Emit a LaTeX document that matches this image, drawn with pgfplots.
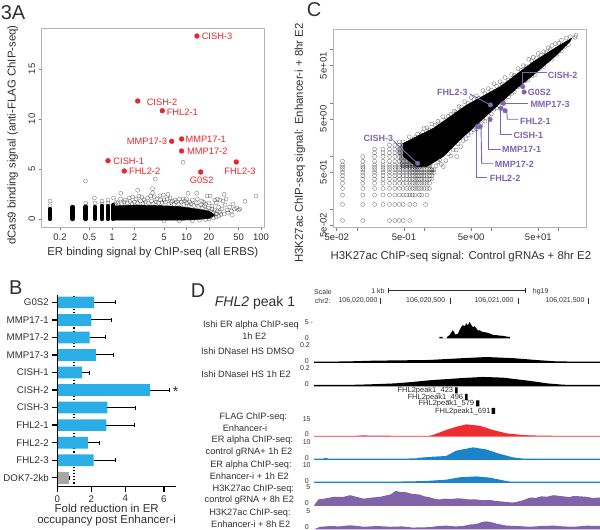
\documentclass[border=0pt]{standalone}
\usepackage{fontspec}
\setmainfont{Liberation Sans}
\usepackage{pgfplots}
\pgfplotsset{compat=1.18}

\definecolor{ptred}{HTML}{E9242B}
\definecolor{lilac}{HTML}{7A67AE}
\definecolor{barblue}{HTML}{2BAEE6}
\definecolor{trkblue}{HTML}{1B84C8}
\definecolor{trkpurple}{HTML}{8262A8}
\definecolor{trkred}{HTML}{EE2D30}
\definecolor{frame}{HTML}{B4B4B4}
\definecolor{txt}{HTML}{303030}

\newcommand{\sz}[1]{\fontsize{#1}{#1}\selectfont}

\pgfplotsset{
  rplot/.style={scale only axis, anchor=south west, axis line style={frame,line width=.8pt},
    tick style={frame!70!black,line width=.5pt}, tick align=outside, major tick length=3pt,
    minor tick num=0, xtick pos=bottom, ytick pos=left, log ticks with fixed point,
    tick label style={font=\sz{9.5},text=txt}, label style={font=\sz{11.4},text=txt},
    yticklabel style={rotate=90,anchor=south}, clip=false},
  circ/.style={only marks, mark=o, mark size=2pt, mark options={draw=black,opacity=.5,line width=.4pt}},
  track/.style={hide axis, scale only axis, anchor=south west, width=286pt,
    xmin=-483, xmax=1572, ymin=0, clip=true},
}

\begin{document}
\begin{tikzpicture}
\path[use as bounding box] (0pt,0pt) rectangle (600pt,530pt);

% A
\begin{axis}[rplot, at={(41.7pt,303pt)}, width=222.3pt, height=198.7pt,
  xmode=log, xmin=0.1138, xmax=109.7, ymin=-0.8, ymax=19.07,
  xtick={0.2,0.5,1,2,5,10,20,50,100}, xticklabels={0.2,0.5,1,2,5,10,20,50,100},
  ytick={0,5,10,15}, yticklabels={0,5,10,15},
  xlabel={ER binding signal by ChIP-seq (all ERBS)},
  ylabel={dCas9 binding signal (anti-FLAG ChIP-seq)},
  xlabel style={at={(axis description cs:.5,-0.131)},anchor=center},
  ylabel style={at={(axis description cs:-0.13,.463)},anchor=center}]
\addplot[black,line width=4.4pt,line cap=round,unbounded coords=jump] coordinates {
 (.147,0)(.147,1.0)(.147,nan)(.296,0)(.296,1.2)(.296,nan)(.443,0)(.443,1.2)(.443,nan)
 (.59,0)(.59,1.2)(.59,nan)(.734,0)(.734,1.3)(.734,nan)(.883,0)(.883,1.3)(.883,nan)(1.04,0)(1.04,1.4)};
\addplot[fill=black,draw=black] coordinates {
 (1.04,-.12)(5,-.12)(12,-.1)(20,.05)(24,.4)(20,.8)(14,1.0)(8,1.25)(4,1.35)(2,1.4)(1.4,1.35)(1.04,1.3)} -- cycle;
\addplot[circ] coordinates {
 (9,5.67)(.44,3.8)(3.8,4.0)(2.21,2.87)(3.5,3.03)(.58,2.1)(1.31,2.57)(85.7,2.3)(61,1.77)(31.9,2.47)
 (20.7,2.3)(13.7,2.57)(10.5,2.57)(5.65,2.47)(4.94,2.4)(4.4,2.33)(3.5,2.63)(.147,1.8)(.147,1.33)
 (22,1.3)(24,.9)(25,1.6)(27,1.2)(28,.7)(30,1.0)(31,1.8)(32,.5)(33,1.4)(34,2.0)(35,.9)(36,.6)
 (38,1.2)(40,.8)(41,.4)(42,1.5)(44,1.0)(47,1.1)(50,.9)(52,1.0)(28,1.9)(26,2.0)(24,1.9)(23,.4)
 (21,.2)(20,0)(20,1.6)(19,2.3)(18,1.5)(17,1.7)(16,1.8)(14,2.0)(12,1.9)(11,1.7)(10,2.0)(9.5,1.8)
 (9,2.0)(8,2.0)(7,1.9)(6.5,1.8)(6,2.1)(5.5,2.0)(5,1.9)(4.5,1.9)(4,2.0)(3.7,2.2)(3.3,2.3)(3,2.1)
 (2.7,1.9)(2.5,2.2)(2.3,2.3)(2.1,2.0)(1.9,2.2)(1.7,2.1)(1.5,1.9)(1.3,2.0)(1.15,1.7)(1.05,2.1)
 (.883,1.9)(.883,1.6)(.734,1.8)(.734,1.5)(.59,1.6)(.443,1.6)(.443,1.3)
 (1.1,1.5)(1.2,1.6)(1.35,1.55)(1.45,1.7)(1.6,1.6)(1.75,1.75)(1.85,1.55)(2,1.7)(2.2,1.6)(2.4,1.8)
 (2.6,1.55)(2.8,1.7)(3.1,1.6)(3.4,1.8)(3.6,1.55)(3.9,1.7)(4.2,1.6)(4.7,1.65)(5.2,1.7)(5.8,1.5)
 (6.2,1.65)(6.8,1.45)(7.3,1.7)(7.8,1.5)(8.5,1.7)(9.2,1.45)(10,1.6)(10.8,1.3)(11.5,1.5)(12.5,1.35)
 (13.5,1.6)(14.5,1.25)(15.5,1.4)(16.5,1.1)(17.5,1.3)(18.5,.9)(19.5,1.1)(21,.75)(22,1.0)(23,.65)
 (25,.5)(26,.8)(27,.3)(25,.2)(23,.1)(29,.45)(18,-.05)(15,-.12)(12,-.18)(8,-.2)(5,-.2)};
\addplot[only marks,mark=*,mark size=2.4pt,color=ptred,mark options={solid}] coordinates {
 (13.8,18.3)(2.21,11.8)(4.73,10.83)(6.32,7.77)(8.6,8.0)(8.6,6.8)(.883,5.83)(1.46,4.8)(15.5,4.7)(46.6,5.7)};
\end{axis}

% B
\begin{axis}[scale only axis, anchor=south west, at={(57.3pt,43.3pt)}, width=118.7pt, height=191.7pt,
  xbar, bar width=11.7pt, bar shift=0pt, xmin=0, xmax=6.98, ymin=-.51, ymax=10.42,
  axis x line=bottom, axis y line=left, axis line style={-,black,line width=1.4pt},
  tick style={black,line width=1.3pt}, xtick style={black,line width=1.3pt}, ytick style={black,line width=1.3pt},
  tick align=outside, major tick length=5pt, axis on top,
  xtick={0,2,4,6.27}, xticklabels={0,2,4,6},
  ytick={0,...,10}, yticklabels={DOK7-2kb,FHL2-3,FHL2-2,FHL2-1,CISH-3,CISH-2,CISH-1,MMP17-3,MMP17-2,MMP17-1,G0S2},
  tick label style={font=\sz{9.7},text=txt},
  xlabel={Fold reduction in ER\\occupancy post Enhancer-i},
  xlabel style={at={(axis description cs:.416,-0.148)},anchor=center,align=center,font=\sz{11.5},text=txt},
  error bars/error bar style={black,line width=1pt}]
\addplot[sharp plot,black,dotted,line width=1.1pt] coordinates {(.98,-.51)(.98,10.42)};
\addplot[fill=barblue,draw=none,error bars/.cd,x dir=plus,x explicit] coordinates {
 (2.16,10) +- (1.23,0)
 (2.0,9) +- (1.16,0)
 (1.9,8) +- (.94,0)
 (2.27,7) +- (1.02,0)
 (1.45,6) +- (.43,0)
 (5.45,5) +- (1.12,0)
 (2.94,4) +- (1.65,0)
 (2.88,3) +- (1.63,0)
 (1.8,2) +- (.69,0)
 (2.14,1) +- (1.29,0)};
\addplot[fill=gray!70,draw=none,error bars/.cd,x dir=plus,x explicit] coordinates {(.69,0) +- (.03,0)};
\end{axis}

% C
\begin{axis}[rplot, at={(333.3pt,302.3pt)}, width=252.7pt, height=198.4pt,
  xmode=log, ymode=log, xmin=.0445, xmax=256, ymin=.045, ymax=241.5,
  xtick={.05,.1,.5,1,5,10,50,100}, xticklabels={5e-02,,5e-01,,5e+00,,5e+01,},
  ytick={.05,.1,.5,1,5,10,50,100}, yticklabels={5e-02,,5e-01,,5e+00,,5e+01,},
  xlabel={H3K27ac ChIP-seq signal: Control gRNAs + 8hr E2},
  ylabel={H3K27ac ChIP-seq signal: Enhancer-i + 8hr E2},
  xlabel style={at={(axis description cs:.505,-0.143)},anchor=center},
  ylabel style={at={(axis description cs:-0.132,.427)},anchor=center}]
\addplot[fill=black,draw=none,opacity=.35] coordinates {(.45,.6)(.4,1.3)(.45,1.7)(.7,2)(1.4,1)(1.3,.6)} -- cycle;
\addplot[circ] coordinates {
 (.061,.0615)(.122,.0615)(.305,.0615)(.366,.0615)(.427,.0615)(.488,.0615)(.61,.0615)
 (.061,.123)(.122,.123)(.183,.123)(.244,.123)(.305,.123)(.366,.123)(.427,.123)(.488,.123)(.61,.123)(.73,.123)(1.05,.123)
 (.061,.185)(.122,.185)(.183,.185)(.244,.185)(.305,.185)(.366,.185)(.427,.185)(.488,.185)(.549,.185)(.61,.185)(.67,.185)(.73,.185)(.85,.185)(.92,.185)(1.1,.185)
 (.061,.246)(.122,.246)(.183,.246)(.244,.246)(.305,.246)(.366,.246)(.427,.246)(.488,.246)(.549,.246)(.61,.246)(.67,.246)(.73,.246)(.79,.246)(.85,.246)(.92,.246)(1.0,.246)(1.1,.246)(1.2,.246)
 (.061,.308)(.122,.308)(.183,.308)(.244,.308)(.305,.308)(.366,.308)(.427,.308)(.488,.308)(.549,.308)(.61,.308)(.67,.308)(.73,.308)(.79,.308)(.85,.308)(.92,.308)(1.0,.308)(1.1,.308)(1.2,.308)
 (.061,.369)(.122,.369)(.183,.369)(.244,.369)(.305,.369)(.366,.369)(.427,.369)(.488,.369)(.549,.369)(.61,.369)(.67,.369)(.73,.369)(.79,.369)(.85,.369)(.92,.369)(1.0,.369)(1.1,.369)(1.2,.369)(1.3,.369)
 (.061,.431)(.122,.431)(.183,.431)(.244,.431)(.305,.431)(.366,.431)(.427,.431)(.488,.431)(.549,.431)(.61,.431)(.67,.431)(.73,.431)(.79,.431)(.85,.431)(.92,.431)(1.0,.431)(1.1,.431)(1.2,.431)(1.3,.431)
 (.061,.492)(.122,.492)(.183,.492)(.244,.492)(.305,.492)(.366,.492)(.427,.492)(.488,.492)(.549,.492)(.61,.492)(.67,.492)(.73,.492)(.79,.492)(.85,.492)(.92,.492)(1.0,.492)(1.1,.492)(1.2,.492)(1.3,.492)(1.4,.492)
 (.061,.554)(.122,.554)(.183,.554)(.244,.554)(.305,.554)(.366,.554)(.427,.554)(.488,.554)(.549,.554)(.61,.554)(.67,.554)(.73,.554)(.79,.554)(.85,.554)(.92,.554)(1.0,.554)(1.1,.554)(1.2,.554)(1.3,.554)(1.4,.554)
 (.061,.615)(.122,.615)(.183,.615)(.244,.615)(.305,.615)(.366,.615)(.427,.615)(.488,.615)(.549,.615)(.61,.615)(.67,.615)(.73,.615)(.79,.615)(.85,.615)
 (.061,.677)(.122,.677)(.183,.677)(.244,.677)(.305,.677)(.366,.677)(.427,.677)(.488,.677)(.549,.677)(.61,.677)(.67,.677)(.73,.677)
 (.061,.8)(.122,.8)(.183,.8)(.244,.8)(.305,.8)(.366,.8)(.427,.8)(.488,.8)(.549,.8)(.61,.8)(.67,.8)
 (.122,.98)(.183,.98)(.244,.98)(.305,.98)(.366,.98)(.427,.98)(.488,.98)(.549,.98)
 (.183,1.15)(.244,1.15)(.305,1.15)(.366,1.15)(.427,1.15)(.488,1.15)(.549,1.15)
 (.183,1.35)(.244,1.35)(.305,1.35)(.366,1.35)(.427,1.35)(.488,1.35)(.549,1.35)
 (.305,1.6)(.366,1.6)(.427,1.6)(.488,1.6)(.427,1.85)(.488,1.85)
 (.6,2.3)(.7,2.1)(.8,2.6)(.95,2.8)(1.1,3.4)(1.3,4.0)(1.6,4.5)(1.9,5.5)(2.3,5.6)(2.8,7.0)(3.3,8.5)(4,10.5)(5,12.5)(6,13.5)
 (7.5,17)(9,18.5)(11,23)(13.5,25)(16,30)(20,34)(25,44)(30,50)(36,66)(42,72)(50,85)(60,92)(70,108)(80,120)(90,130)(110,150)(130,165)(150,175)(175,170)(180,185)
 (1.3,.55)(1.5,.65)(1.8,.7)(1.93,.634)(2.1,.82)(2.5,1.0)(3.05,.977)(3,1.3)(3.5,1.5)(4.2,2.1)(5,2.8)(6,3.2)(7,3.9)(8,4.5)(10,6.2)(12,8)(15,10)(18,13)(22,16)(28,22)(35,27)(45,34)(60,48)(80,66)(110,95)(140,125)
 (.75,2.3)(.9,2.5)(1,3.3)(1.2,3.1)(1.45,3.8)(1.7,4.1)(2.1,4.8)(2.5,6.1)(3,6.6)(3.6,8.4)(4.5,9.9)(5.5,11.5)(6.5,12.2)(8,15)(10,17.5)(12,20.5)(14.5,22.5)(18,27)(22,33)(28,41)(33,48)(40,61)(47,70)(55,78)(65,88)(75,100)(100,132)
 (1.6,.78)(1.7,.85)(2.3,1.1)(2.7,1.3)(3.2,1.7)(3.8,1.95)(4.5,2.5)(5.5,3.1)(6.5,3.8)(7.5,4.9)(9,5.8)(11,7.6)(13,8.9)(16,12)(20,15)(25,20)(32,26)(40,32)(52,44)(70,62)(95,82)(125,115)};
\addplot[fill=black,draw=black] coordinates {
 (.491,1.74)(1.373,3.33)(4.3,9.14)(13.5,20.2)(42.2,59.6)(105,123)(157,164)(148,142)(94,79.6)(42.2,33.5)
 (23.9,18.8)(13.5,9.82)(6.79,4.45)(3.42,2.01)(1.93,.977)(1.09,.634)(.774,.634)(.491,.977)} -- cycle;
\addplot[only marks,mark=*,mark size=2.3pt,color=lilac,mark options={solid}] coordinates {
 (29.3,20.2)(30.7,16)(9.68,9.14)(15.1,9.8)(16,7.14)(13.9,7.9)(9.57,4.9)(6.79,3.58)(6.2,3.58)(.8,.73)};
\end{axis}

% D tracks
\begin{axis}[track, at={(314pt,191.5pt)}, height=15.7pt, ymax=5]
\addplot[fill=black,draw=none] coordinates {(418,0)(418,.5)(442,.5)(442,0)(471,0)(471,.4)(490,1.06)(515,2.66)(534,1.2)(551,1.5)(563,2.66)(575,3.7)(587,4.26)(599,3.9)(611,4.79)(623,4.2)(635,5.3)(647,4.3)(659,3.6)(671,3.9)(684,3.2)(696,2.5)(708,2.66)(720,2.2)(732,2.1)(756,1.9)(780,1.6)(805,1.1)(829,1.06)(853,.9)(877,.85)(901,.6)(925,.5)(925,0)} \closedcycle;
\end{axis}
\begin{axis}[track, at={(314pt,167pt)}, height=17.3pt, ymax=.2]
\addplot[fill=black,draw=none] coordinates {(-484,.015)(-247,.018)(-54,.027)(104,.03)(345,.035)(587,.056)(756,.069)(949,.056)(1118,.034)(1263,.018)(1572,.015)} \closedcycle;
\end{axis}
\begin{axis}[track, at={(314pt,143.7pt)}, height=17.3pt, ymax=.2]
\addplot[fill=black,draw=none] coordinates {(-484,.015)(-174,.018)(-5,.027)(104,.034)(225,.05)(345,.069)(587,.096)(732,.108)(877,.1)(1070,.062)(1191,.034)(1311,.018)(1572,.015)} \closedcycle;
\end{axis}
\begin{axis}[track, at={(314pt,93.3pt)}, height=17.3pt, ymax=15]
\addplot[fill=trkred,draw=none] coordinates {(-484,.7)(-174,.8)(-126,1.2)(-80,.9)(104,.8)(345,.8)(370,1.4)(466,5.8)(539,8.6)(611,10.7)(708,9.5)(804,5.8)(901,2.9)(1022,1.4)(1118,1)(1239,.8)(1360,.8)(1572,.7)} \closedcycle;
\end{axis}
\begin{axis}[track, at={(314pt,70pt)}, height=17.3pt, ymax=10]
\addplot[fill=trkblue,draw=none] coordinates {(-484,.8)(-416,.8)(-400,1.3)(-380,.8)(-100,.8)(104,.8)(249,.9)(273,1.3)(370,1.9)(466,2.3)(539,5.4)(660,7.3)(756,6.1)(853,3.5)(949,1.5)(1022,.8)(1572,.8)} \closedcycle;
\end{axis}
\begin{axis}[track, at={(314pt,47pt)}, height=17.3pt, ymax=10]
\addplot[fill=trkblue,draw=none] coordinates {(-484,.8)(104,.8)(309,1.1)(466,1.9)(563,3.3)(684,3.8)(780,3.1)(877,1.5)(925,.8)(1572,.8)} \closedcycle;
\end{axis}
\begin{axis}[track, at={(314pt,24pt)}, height=19.3pt, ymax=5]
\addplot[fill=trkpurple,draw=none] coordinates {(-484,0)(-452,1.7)(-410,1.9)(-368,2.2)(-333,2.4)(-280,2.3)(-223,2.8)(-170,2.3)(-126,1.9)(-60,2.2)(-5,2.4)(67,3)(104,3.9)(140,3.6)(176,3.6)(225,3.1)(273,3)(310,2.5)(345,2.3)(380,1.9)(418,1.7)(460,1.9)(500,1.8)(550,2)(587,1.9)(630,1.7)(680,1.7)(730,1.5)(780,1.6)(820,1.3)(860,1.2)(905,1)(949,.9)(1000,1.3)(1020,1.5)(1070,2.2)(1110,2.1)(1150,2.5)(1190,2.4)(1239,2.8)(1280,2.6)(1310,2.5)(1350,2.3)(1384,2.6)(1430,2.5)(1470,2.4)(1520,2.1)(1572,2.2)} \closedcycle;
\end{axis}
\begin{axis}[track, at={(314pt,.5pt)}, height=19.3pt, ymax=5]
\addplot[fill=trkpurple,draw=none] coordinates {(-484,0)(-440,.7)(-400,.8)(-368,.9)(-300,.8)(-223,1.1)(-170,.9)(-126,.7)(-30,.9)(67,.7)(150,.8)(225,.5)(345,.6)(410,.9)(466,1.0)(530,.8)(587,.9)(640,1.3)(680,1.4)(720,1.9)(756,2.1)(790,1.9)(830,1.5)(901,1.0)(980,.9)(1070,.7)(1150,.9)(1239,1.0)(1310,.8)(1384,.7)(1480,1.0)(1572,.9)} \closedcycle;
\end{axis}

% text and lines, in picture pixels from the top left
\begin{scope}[shift={(0pt,530pt)},x=1pt,y=-1pt,every node/.style={inner sep=0pt,text=txt}]
\node[font=\sz{20}] at (13,13) {3A};
\node[font=\sz{20}] at (15.7,288) {B};
\node[font=\sz{20}] at (314,10) {C};
\node[font=\sz{20}] at (198,291) {D};

\begin{scope}[every node/.style={inner sep=0pt,text=ptred,font=\sz{9.3}}]
\node at (217,36) {CISH-3};
\node at (162,102.3) {CISH-2};
\node at (182.3,112) {FHL2-1};
\node at (147,141.7) {MMP17-3};
\node at (205.7,139) {MMP17-1};
\node at (207.3,151.7) {MMP17-2};
\node at (128.7,161) {CISH-1};
\node at (144.7,171.7) {FHL2-2};
\node at (201.7,180.3) {G0S2};
\node at (240,171.7) {FHL2-3};
\end{scope}

\node[font=\sz{14}] at (175.7,391.5) {*};

\begin{scope}[lilac,line width=.9pt]
\draw (522.7,86.7)--(522.7,72.7)--(546.7,72.7);
\draw (490.3,105)--(470,94);
\draw (503.3,103.3)--(528.3,103.3);
\draw (506.7,110.7)--(507.3,119.3)--(518.3,119.3);
\draw (500,108.3)--(500,134.3)--(511.7,134.3);
\draw (488.7,119.3)--(488.7,149)--(501,149);
\draw (481,126.7)--(481.7,163.3)--(493.3,163.3);
\draw (476.7,126.7)--(476.7,177.7)--(487.3,177.7);
\draw (416.7,162.7)--(393.3,140.7);
\end{scope}
\begin{scope}[every node/.style={inner sep=0pt,text=lilac,font=\bfseries\sz{9}}]
\node at (562.7,75) {CISH-2};
\node at (539.3,92.3) {G0S2};
\node at (452.3,92.3) {FHL2-3};
\node at (550,104.7) {MMP17-3};
\node at (535.3,121.7) {FHL2-1};
\node at (528.3,135) {CISH-1};
\node at (521.7,149.3) {MMP17-1};
\node at (514.3,164.3) {MMP17-2};
\node at (505,178.7) {FHL2-2};
\node at (378.3,138.7) {CISH-3};
\end{scope}

\node[font=\sz{14}] at (255,302.7) {\textit{FHL2} peak 1};
\begin{scope}[every node/.style={inner sep=0pt,text=txt,font=\sz{7}}]
\node at (323,291.7) {Scale};
\node at (378,290.7) {1 kb};
\node at (540.7,291.7) {hg19};
\node at (322.7,301) {chr2:};
\node at (358,301) {106,020,000};
\node at (425.7,301) {106,020,500};
\node at (494,301) {106,021,000};
\node at (565,301) {106,021,500};
\node at (309,322.3) {5 -};
\node at (306.7,338.3) {0};
\node at (305,345) {0.2};
\node at (306.7,360.7) {0};
\node at (305,368.3) {0.2};
\node at (306.7,384) {0};
\node at (306.7,419) {15};
\node at (306.7,434.3) {0};
\node at (306.7,442) {10};
\node at (306.7,457.7) {0};
\node at (306.7,465) {10};
\node at (306.7,480.7) {0};
\node at (308.3,487.3) {5};
\node at (306.7,503.3) {0};
\node at (308.3,510.7) {5};
\node at (306.7,526.7) {0};
\end{scope}
\draw[txt,line width=.5pt] (388,290.7)--(525,290.7) (388,288.5)--(388,293) (525,288.5)--(525,293);
\draw[txt,line width=.6pt] (380.7,298)--(380.7,304) (450,298)--(450,304) (518.7,298)--(518.7,304) (588.3,298)--(588.3,304);

\begin{scope}[every node/.style={inner sep=0pt,text=txt,font=\sz{7.5}}]
\node[anchor=east] at (453.3,390.7) {FHL2peak1\_423};
\node[anchor=east] at (463.3,397.3) {FHL2peak1\_496};
\node[anchor=east] at (474.3,404) {FHL2peak1\_579};
\node[anchor=east] at (490.7,411.3) {FHL2peak1\_691};
\end{scope}
\fill[black] (455,387.3) rectangle (457.7,393.3) (465,394) rectangle (467.7,400) (476,400.5) rectangle (479.3,406.5) (491.7,408) rectangle (495,414);

\begin{scope}[every node/.style={inner sep=0pt,text=txt,font=\sz{9.2}}]
\node at (251,325) {Ishi ER alpha ChIP-seq};
\node at (254.3,336) {1h E2};
\node at (247.7,351.7) {Ishi DNaseI HS DMSO};
\node at (246,374.3) {Ishi DNaseI HS 1h E2};
\node at (253.3,417.3) {FLAG ChIP-seq:};
\node at (245,428.3) {Enhancer-i};
\node at (252.3,440.3) {ER alpha ChIP-seq:};
\node at (249,451.7) {control gRNA+ 1h E2};
\node at (251,465) {ER alpha ChIP-seq:};
\node at (249.3,476.3) {Enhancer-i + 1h E2};
\node at (253.3,489.3) {H3K27ac ChIP-seq:};
\node at (249.3,500.3) {control gRNA + 8h E2};
\node at (250,512.7) {H3K27ac ChIP-seq:};
\node at (250.7,524.3) {Enhancer-i + 8h E2};
\end{scope}
\end{scope}
\end{tikzpicture}
\end{document}
